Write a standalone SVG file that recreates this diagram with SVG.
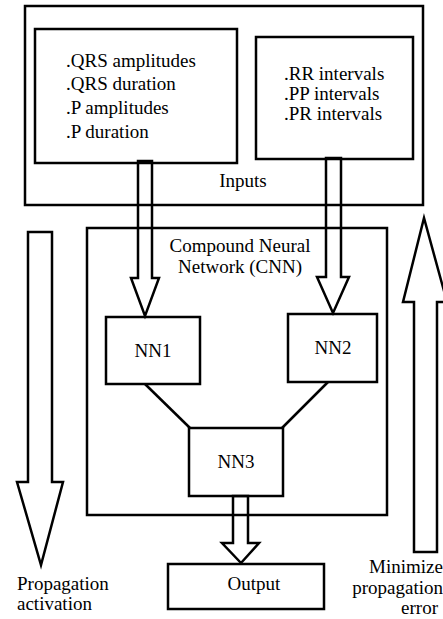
<svg xmlns="http://www.w3.org/2000/svg" width="443" height="619" viewBox="0 0 443 619">
<style>
.box{fill:none;stroke:#000;stroke-width:2.5}
.arr{fill:none;stroke:#000;stroke-width:2.5;stroke-linejoin:miter}
.ln{fill:none;stroke:#000;stroke-width:2.5}
.m{text-anchor:middle}
.e{text-anchor:end}
</style>
<rect width="443" height="619" fill="#fff"/>
<g font-family="Liberation Serif, DejaVu Serif, serif" font-size="19" fill="#000">
<g id="inputs">
<rect class="box" x="25" y="6" width="398" height="199"/>
<text class="m" x="243" y="187">Inputs</text>
</g>
<g id="features-left">
<rect class="box" x="35" y="29" width="202" height="134"/>
<text x="66" y="67">.QRS amplitudes</text>
<text x="66" y="90">.QRS duration</text>
<text x="66" y="114">.P amplitudes</text>
<text x="66" y="138">.P duration</text>
</g>
<g id="features-right">
<rect class="box" x="256" y="37" width="157" height="122"/>
<text x="284" y="80">.RR intervals</text>
<text x="284" y="100">.PP intervals</text>
<text x="284" y="120">.PR intervals</text>
</g>
<g id="cnn">
<rect class="box" x="87" y="228" width="300" height="287"/>
<text class="m" x="240" y="252">Compound Neural</text>
<text class="m" x="240" y="273">Network (CNN)</text>
</g>
<g id="nn1">
<rect class="box" x="106" y="317" width="94" height="67"/>
<text class="m" x="153" y="357">NN1</text>
</g>
<g id="nn2">
<rect class="box" x="288" y="314" width="89" height="68"/>
<text class="m" x="333" y="354">NN2</text>
</g>
<g id="nn3">
<rect class="box" x="189" y="428" width="94" height="68"/>
<text class="m" x="236" y="468">NN3</text>
</g>
<g id="output">
<rect class="box" x="168" y="564" width="156" height="45"/>
<text class="m" x="254" y="590">Output</text>
</g>
<g id="connectors">
<polygon class="arr" points="138,161 152,161 152,278 159,278 145,316 131,278 138,278"/>
<polygon class="arr" points="326,158 341,158 341,277 349,277 333,313 317,277 326,277"/>
<polygon class="arr" points="233,496 248,496 248,543 259,543 241,563 222,543 233,543"/>
<line class="ln" x1="145" y1="384" x2="190" y2="428"/>
<line class="ln" x1="328" y1="382" x2="282" y2="428"/>
<polygon class="arr" points="28,232 52,232 52,482 63,482 41,565 17,482 28,482"/>
<polygon class="arr" points="414,552 437,552 437,302 447,302 424,218 403,302 414,302"/>
</g>
<g id="labels">
<text x="17" y="590">Propagation</text>
<text x="17" y="610">activation</text>
<text class="e" x="443" y="573">Minimize</text>
<text class="e" x="443" y="594">propagation</text>
<text class="e" x="438" y="614">error</text>
</g>
</g>
</svg>
